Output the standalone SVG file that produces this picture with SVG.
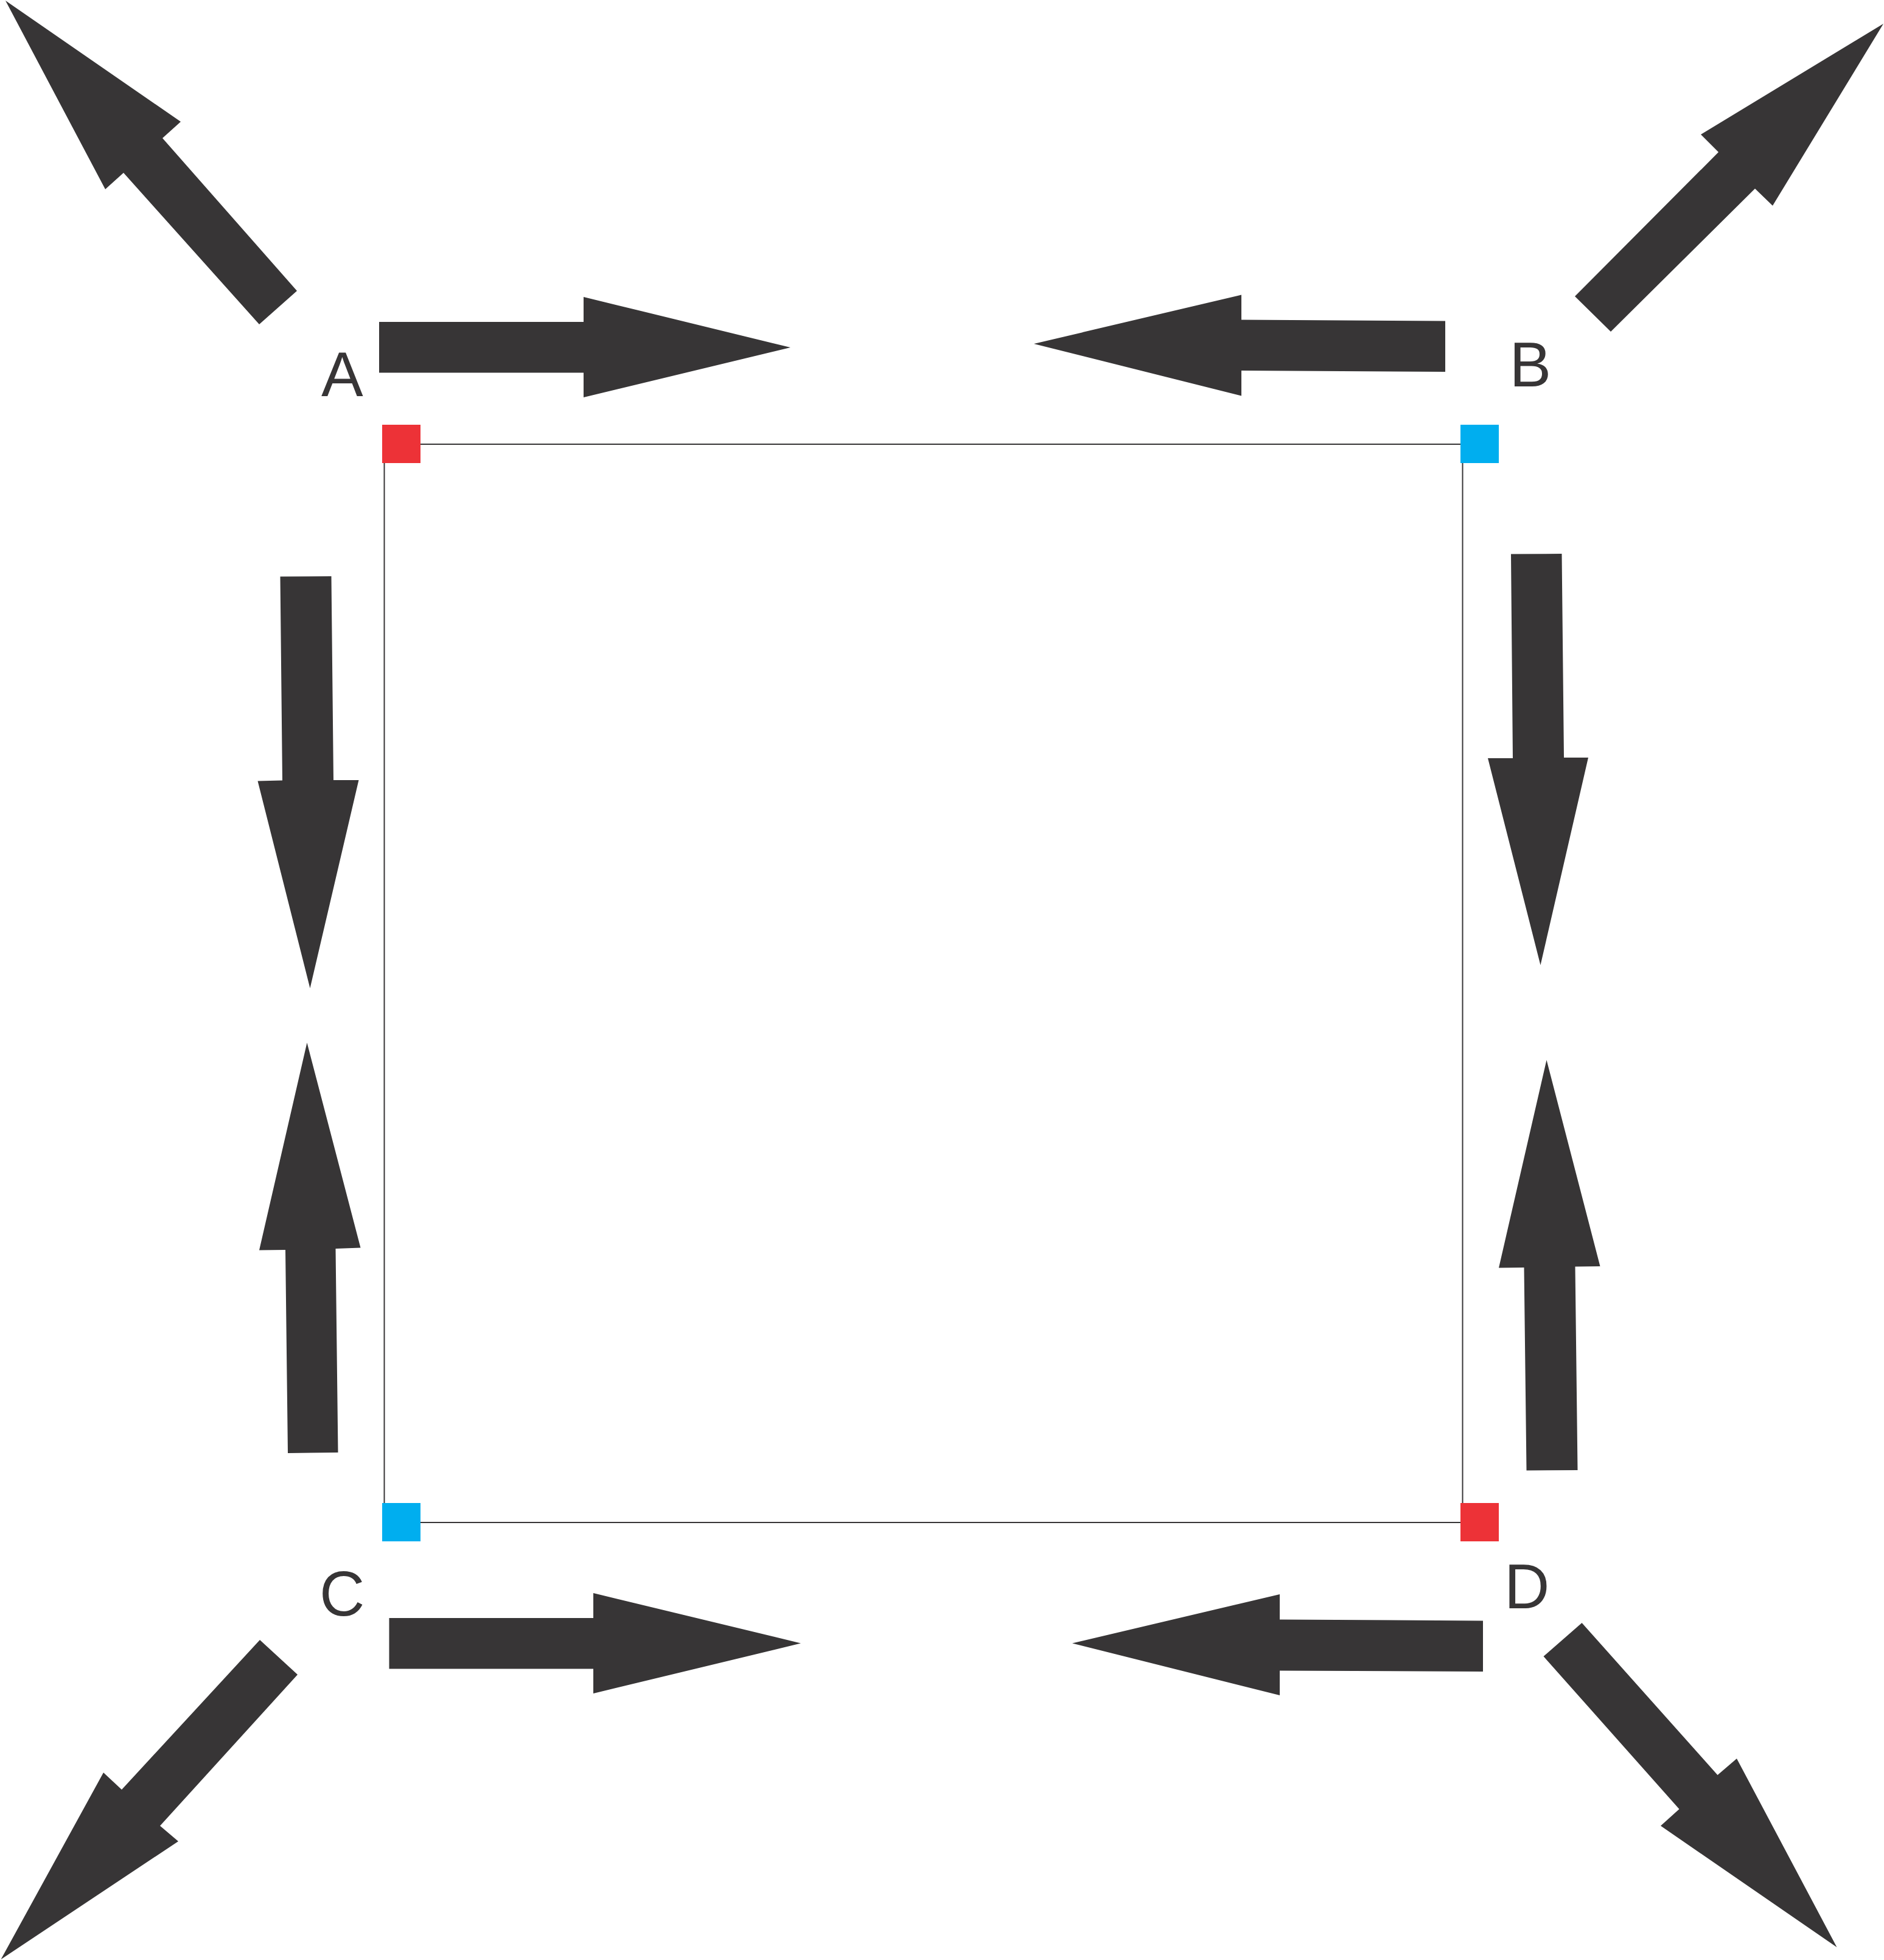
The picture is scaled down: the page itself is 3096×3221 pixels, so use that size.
<svg xmlns="http://www.w3.org/2000/svg" width="3096" height="3221" viewBox="0 0 3096 3221">
<style>
.arrow{fill:#373536;stroke:none}
.edge{stroke:#373536;stroke-width:2;fill:none}
.lbl{font-family:"Liberation Sans",Arial,sans-serif;font-size:103px;fill:#373536}
.red{fill:#ED3237}
.blue{fill:#00AEEF}
</style>
<rect width="3096" height="3221" fill="#ffffff"/>
<g id="connectors">
<line class="edge" x1="631.5" y1="730" x2="2403.5" y2="730"/>
<line class="edge" x1="631.5" y1="2502" x2="2403.5" y2="2502"/>
<line class="edge" x1="631.5" y1="730" x2="631.5" y2="2502"/>
<line class="edge" x1="2403.5" y1="730" x2="2403.5" y2="2502"/>
</g>
<g id="arrows">
<polygon class="arrow" points="9,1 297,200 267,227 488,478 426,533 203,284 173,311"/>
<polygon class="arrow" points="3095,39 2913,338 2884,310 2647,545 2588,487 2824,250 2795,221"/>
<polygon class="arrow" points="623,529 959,529 959,488 1299,571 959,653 959,612.5 623,612.5"/>
<polygon class="arrow" points="1699,565 2040,484.5 2040,525.5 2375,527.5 2375,611 2040,609 2040,650.5"/>
<polygon class="arrow" points="460.5,947.5 544.5,947 548,1282 589.5,1282 509.5,1624 423.5,1283.5 464,1282.5"/>
<polygon class="arrow" points="2483,910.5 2566.5,910 2570,1245 2610,1245 2531.5,1586 2445,1246 2486,1246"/>
<polygon class="arrow" points="504.5,1713.5 592.5,2050.5 551.5,2052 555.5,2387 473,2388 469,2054 426,2054.5"/>
<polygon class="arrow" points="2541.5,1742 2629.5,2081 2588.5,2081.5 2592.5,2416 2508.5,2416.5 2504.5,2083 2463,2083.5"/>
<polygon class="arrow" points="427,2695 489,2752 263,3000.5 293,3026 1.5,3220 170,2913 200,2941"/>
<polygon class="arrow" points="2599.5,2667 2822.5,2917 2854,2890 3018.5,3200 2729,3000.5 2759.5,2973 2536.5,2722"/>
<polygon class="arrow" points="639.5,2659 975,2659 975,2618 1316,2700.5 975,2783 975,2742.5 639.5,2742.5"/>
<polygon class="arrow" points="1762,2700.5 2103,2620 2103,2661.5 2437,2663.5 2437,2747 2103,2745.5 2103,2786"/>
</g>
<g id="node-A">
<rect class="red" x="628" y="698" width="63" height="63"/>
<text class="lbl" x="528" y="651">A</text>
</g>
<g id="node-B">
<rect class="blue" x="2400" y="698" width="63" height="63"/>
<text class="lbl" x="2480.5" y="635">B</text>
</g>
<g id="node-C">
<rect class="blue" x="628" y="2470" width="63" height="63"/>
<text class="lbl" x="525" y="2655">C</text>
</g>
<g id="node-D">
<rect class="red" x="2400" y="2470" width="63" height="63"/>
<text class="lbl" x="2472" y="2643">D</text>
</g>
</svg>
